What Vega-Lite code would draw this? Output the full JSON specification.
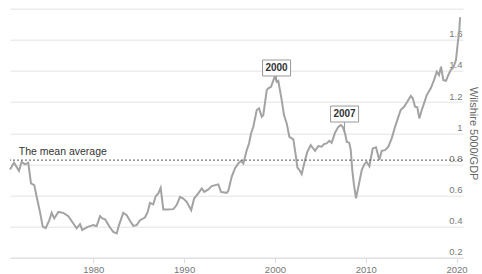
{
  "$schema": "https://vega.github.io/schema/vega-lite/v6.json",
  "width": 453,
  "height": 249,
  "autosize": "none",
  "padding": {"left": 10, "top": 8.7, "right": 19, "bottom": 16.5},
  "background": "white",
  "config": {
    "view": {"stroke": null},
    "font": "Liberation Sans",
    "axis": {"labelOverlap": false, "labelFont": "Liberation Sans", "titleFont": "Liberation Sans"},
    "axisY": {
      "labelOverlap": false, "grid": true, "gridColor": "#e3e3e3", "gridWidth": 1, "domain": false,
      "ticks": false, "tickSize": 0, "labelAlign": "right", "labelBaseline": "bottom",
      "labelPadding": -1, "labelOffset": -1, "labelColor": "#777777", "labelFontSize": 9.5,
      "titleColor": "#666666", "titleFontSize": 11, "titleFontWeight": "normal", "titlePadding": 5
    }
  },
  "datasets": {
    "series": [
      {"year": 1970.83, "value": 0.767}, {"year": 1971.27, "value": 0.81}, {"year": 1971.82, "value": 0.758},
      {"year": 1972.11, "value": 0.816}, {"year": 1972.48, "value": 0.80}, {"year": 1972.84, "value": 0.81},
      {"year": 1973.14, "value": 0.677}, {"year": 1973.5, "value": 0.666}, {"year": 1973.77, "value": 0.59},
      {"year": 1974.13, "value": 0.494}, {"year": 1974.43, "value": 0.40}, {"year": 1974.76, "value": 0.39},
      {"year": 1975.15, "value": 0.44}, {"year": 1975.42, "value": 0.488}, {"year": 1975.7, "value": 0.452},
      {"year": 1976.15, "value": 0.494}, {"year": 1976.7, "value": 0.488}, {"year": 1977.25, "value": 0.467},
      {"year": 1977.8, "value": 0.42}, {"year": 1978.17, "value": 0.388}, {"year": 1978.54, "value": 0.415},
      {"year": 1978.79, "value": 0.377}, {"year": 1979.38, "value": 0.398}, {"year": 1980.0, "value": 0.409},
      {"year": 1980.37, "value": 0.403}, {"year": 1980.74, "value": 0.467}, {"year": 1981.0, "value": 0.452},
      {"year": 1981.3, "value": 0.446}, {"year": 1981.84, "value": 0.394}, {"year": 1982.2, "value": 0.366},
      {"year": 1982.58, "value": 0.356}, {"year": 1982.83, "value": 0.409}, {"year": 1983.3, "value": 0.488},
      {"year": 1983.68, "value": 0.473}, {"year": 1984.04, "value": 0.437}, {"year": 1984.4, "value": 0.405},
      {"year": 1984.78, "value": 0.409}, {"year": 1985.14, "value": 0.441}, {"year": 1985.69, "value": 0.458},
      {"year": 1985.99, "value": 0.494}, {"year": 1986.24, "value": 0.552}, {"year": 1986.6, "value": 0.542},
      {"year": 1986.87, "value": 0.595}, {"year": 1987.16, "value": 0.613}, {"year": 1987.42, "value": 0.649},
      {"year": 1987.71, "value": 0.51}, {"year": 1988.08, "value": 0.51}, {"year": 1988.81, "value": 0.512},
      {"year": 1989.18, "value": 0.538}, {"year": 1989.55, "value": 0.591}, {"year": 1989.91, "value": 0.58},
      {"year": 1990.28, "value": 0.559}, {"year": 1990.55, "value": 0.53}, {"year": 1990.78, "value": 0.505},
      {"year": 1991.1, "value": 0.58}, {"year": 1991.56, "value": 0.613}, {"year": 1991.94, "value": 0.645},
      {"year": 1992.22, "value": 0.623}, {"year": 1992.67, "value": 0.639}, {"year": 1993.04, "value": 0.66},
      {"year": 1993.77, "value": 0.671}, {"year": 1994.06, "value": 0.623}, {"year": 1994.69, "value": 0.617},
      {"year": 1994.87, "value": 0.63}, {"year": 1995.24, "value": 0.72}, {"year": 1995.6, "value": 0.774},
      {"year": 1995.97, "value": 0.806}, {"year": 1996.27, "value": 0.822}, {"year": 1996.52, "value": 0.806},
      {"year": 1996.9, "value": 0.891}, {"year": 1997.15, "value": 0.934}, {"year": 1997.37, "value": 0.998},
      {"year": 1997.62, "value": 1.041}, {"year": 1998.0, "value": 1.149}, {"year": 1998.25, "value": 1.16},
      {"year": 1998.55, "value": 1.105}, {"year": 1998.72, "value": 1.116}, {"year": 1999.1, "value": 1.277},
      {"year": 1999.27, "value": 1.288}, {"year": 1999.57, "value": 1.298}, {"year": 1999.71, "value": 1.32},
      {"year": 1999.97, "value": 1.363}, {"year": 2000.2, "value": 1.331}, {"year": 2000.37, "value": 1.337},
      {"year": 2000.75, "value": 1.213}, {"year": 2001.0, "value": 1.116}, {"year": 2001.3, "value": 1.063},
      {"year": 2001.59, "value": 0.977}, {"year": 2001.85, "value": 0.967}, {"year": 2002.03, "value": 0.96},
      {"year": 2002.32, "value": 0.848}, {"year": 2002.47, "value": 0.78}, {"year": 2002.69, "value": 0.763},
      {"year": 2002.95, "value": 0.737}, {"year": 2003.32, "value": 0.827}, {"year": 2003.57, "value": 0.88},
      {"year": 2003.94, "value": 0.923}, {"year": 2004.42, "value": 0.887}, {"year": 2004.78, "value": 0.917},
      {"year": 2005.15, "value": 0.913}, {"year": 2005.41, "value": 0.93}, {"year": 2005.7, "value": 0.934},
      {"year": 2005.99, "value": 0.951}, {"year": 2006.25, "value": 0.938}, {"year": 2006.62, "value": 1.003},
      {"year": 2006.98, "value": 1.041}, {"year": 2007.25, "value": 1.052}, {"year": 2007.47, "value": 1.041},
      {"year": 2007.72, "value": 0.999}, {"year": 2007.91, "value": 0.945}, {"year": 2008.19, "value": 0.938},
      {"year": 2008.35, "value": 0.891}, {"year": 2008.52, "value": 0.763}, {"year": 2008.71, "value": 0.666},
      {"year": 2008.93, "value": 0.581}, {"year": 2009.19, "value": 0.655}, {"year": 2009.56, "value": 0.763},
      {"year": 2009.85, "value": 0.8}, {"year": 2010.1, "value": 0.816}, {"year": 2010.4, "value": 0.788},
      {"year": 2010.77, "value": 0.902}, {"year": 2011.13, "value": 0.909}, {"year": 2011.5, "value": 0.827},
      {"year": 2011.76, "value": 0.887}, {"year": 2012.13, "value": 0.891}, {"year": 2012.49, "value": 0.913},
      {"year": 2012.86, "value": 0.967}, {"year": 2013.23, "value": 1.041}, {"year": 2013.59, "value": 1.105},
      {"year": 2013.85, "value": 1.149}, {"year": 2014.22, "value": 1.17}, {"year": 2014.58, "value": 1.202},
      {"year": 2014.96, "value": 1.239}, {"year": 2015.18, "value": 1.224}, {"year": 2015.43, "value": 1.17},
      {"year": 2015.68, "value": 1.166}, {"year": 2015.9, "value": 1.095}, {"year": 2016.17, "value": 1.149},
      {"year": 2016.42, "value": 1.192}, {"year": 2016.72, "value": 1.245}, {"year": 2017.16, "value": 1.288},
      {"year": 2017.52, "value": 1.341}, {"year": 2017.82, "value": 1.395}, {"year": 2018.07, "value": 1.374},
      {"year": 2018.29, "value": 1.427}, {"year": 2018.55, "value": 1.341}, {"year": 2018.84, "value": 1.337},
      {"year": 2019.1, "value": 1.374}, {"year": 2019.36, "value": 1.406}, {"year": 2019.65, "value": 1.423},
      {"year": 2019.94, "value": 1.47}, {"year": 2020.13, "value": 1.577}, {"year": 2020.31, "value": 1.663},
      {"year": 2020.39, "value": 1.745}
    ],
    "notes": [
      {"label": "2000", "year": 2000.18, "value": 1.419, "peak": 1.34},
      {"label": "2007", "year": 2007.67, "value": 1.123, "peak": 1.01}
    ]
  },
  "layer": [
    {
      "data": {"name": "series"},
      "mark": {"type": "line", "color": "#a3a3a3", "strokeWidth": 2, "interpolate": "linear"},
      "encoding": {
        "x": {
          "field": "year", "type": "quantitative",
          "scale": {"domain": [1970.83, 2020.71], "nice": false, "zero": false},
          "axis": {
            "values": [1980, 1990, 2000, 2010, 2020], "format": "d", "title": null, "grid": false,
            "domain": true, "domainColor": "#dddddd", "ticks": true, "tickColor": "#dddddd", "tickSize": 5,
            "labelColor": "#777777", "labelFontSize": 9.5, "labelPadding": 2
          }
        },
        "y": {
          "field": "value", "type": "quantitative",
          "scale": {"domain": [0.2, 1.8], "nice": false, "zero": false},
          "axis": {
            "orient": "right", "tickCount": 8,
            "labelExpr": "datum.value > 1.7 ? '' : format(datum.value, '.1~f')",
            "labelOverlap": false,
            "title": "Wilshire 5000/GDP"
          }
        }
      }
    },
    {
      "data": {"values": [{"value": 0.827}]},
      "mark": {"type": "rule", "color": "#555555", "strokeWidth": 1, "strokeDash": [2, 2]},
      "encoding": {"y": {"field": "value", "type": "quantitative"}}
    },
    {
      "data": {"values": [{"year": 1971.8, "value": 0.827, "label": "The mean average"}]},
      "mark": {"type": "text", "align": "left", "baseline": "alphabetic", "dy": -5, "fontSize": 10.5, "color": "#333333", "font": "Liberation Sans"},
      "encoding": {
        "x": {"field": "year", "type": "quantitative"},
        "y": {"field": "value", "type": "quantitative"},
        "text": {"field": "label"}
      }
    },
    {
      "data": {"name": "notes"},
      "mark": {"type": "rule", "color": "#999999", "strokeWidth": 1},
      "encoding": {
        "x": {"field": "year", "type": "quantitative"},
        "y": {"field": "value", "type": "quantitative"},
        "y2": {"field": "peak"}
      }
    },
    {
      "data": {"name": "notes"},
      "mark": {"type": "point", "shape": "M-1,-0.571H1V0.571H-1Z", "size": 784, "filled": true, "fill": "white", "stroke": "#999999", "strokeWidth": 1, "opacity": 1, "fillOpacity": 1},
      "encoding": {
        "x": {"field": "year", "type": "quantitative"},
        "y": {"field": "value", "type": "quantitative"}
      }
    },
    {
      "data": {"name": "notes"},
      "mark": {"type": "text", "align": "center", "baseline": "middle", "fontSize": 10, "fontWeight": "bold", "color": "#333333", "font": "Liberation Sans"},
      "encoding": {
        "x": {"field": "year", "type": "quantitative"},
        "y": {"field": "value", "type": "quantitative"},
        "text": {"field": "label"}
      }
    }
  ]
}
